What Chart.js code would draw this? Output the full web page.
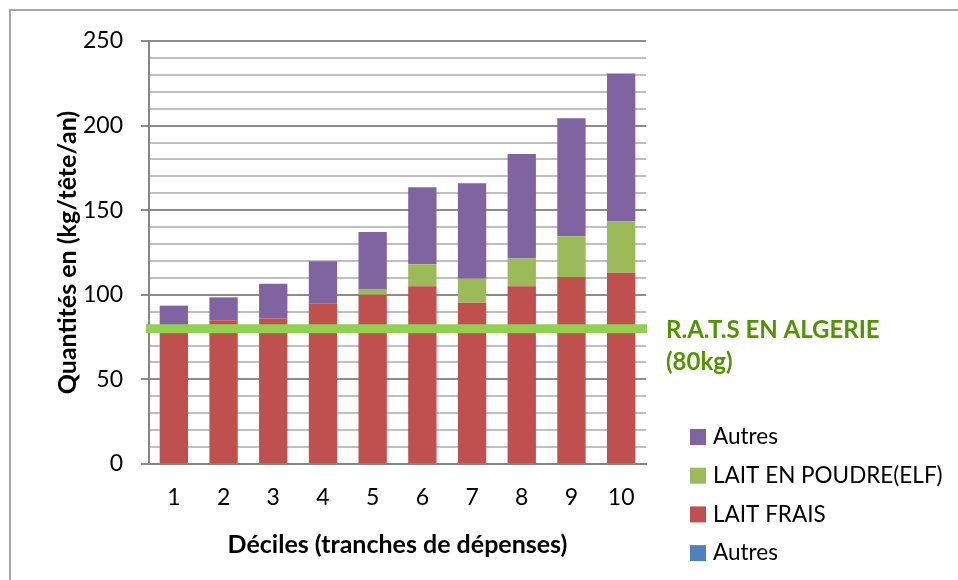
<!DOCTYPE html>
<html>
<head>
<meta charset="utf-8">
<script src="https://cdn.jsdelivr.net/npm/chart.js@4"></script>
<style>
  body { margin: 0; background: #fff; }
  canvas { display: block; }
</style>
</head>
<body>
<canvas id="chart" width="958" height="580"></canvas>
<script>
// Données
const deciles = ['1', '2', '3', '4', '5', '6', '7', '8', '9', '10'];
const laitFrais = [80, 85, 86, 95, 100, 105, 95.3, 105, 110.5, 113];
const laitPoudre = [0, 0, 0, 0, 3.5, 13, 14.2, 16.4, 24.1, 30.5];
const autres = [13.6, 13.5, 20.6, 24.8, 33.6, 45.5, 56.4, 61.8, 69.7, 87.3];
const autresBleu = [0, 0, 0, 0, 0, 0, 0, 0, 0, 0];
const yMax = 250;
const ratsValeur = 80;
const ratsTexte = ['R.A.T.S EN ALGERIE', '(80kg)'];

const FONT = 'Lato, "Open Sans", sans-serif';

const decor = {
    id: 'decor',
    beforeDraw(chart) {
        const ctx = chart.ctx;
        ctx.save();
        ctx.strokeStyle = '#a6a6a6';
        ctx.lineWidth = 2;
        ctx.beginPath();
        ctx.moveTo(10, 580);
        ctx.lineTo(10, 10);
        ctx.lineTo(958, 10);
        ctx.stroke();
        ctx.restore();
    },
    afterDatasetsDraw(chart) {
        // ligne R.A.T.S
        const ctx = chart.ctx;
        const y = chart.scales.y.getPixelForValue(ratsValeur);
        ctx.save();
        ctx.strokeStyle = '#92d050';
        ctx.lineWidth = 9;
        ctx.beginPath();
        ctx.moveTo(chart.chartArea.left - 3, y);
        ctx.lineTo(chart.chartArea.right + 1, y);
        ctx.stroke();
        ctx.fillStyle = '#4f9500';
        ctx.font = 'bold 24px ' + FONT;
        ctx.textBaseline = 'middle';
        ctx.fillText(ratsTexte[0], chart.chartArea.right + 20, y + 2);
        ctx.fillText(ratsTexte[1], chart.chartArea.right + 20, y + 34);
        ctx.restore();
    },
    afterDraw(chart) {
        // légende
        const ctx = chart.ctx;
        const sets = chart.data.datasets.slice().reverse();
        ctx.save();
        ctx.font = '22.5px ' + FONT;
        ctx.textBaseline = 'middle';
        sets.forEach((ds, i) => {
            const y = 437 + i * 38.7;
            ctx.fillStyle = ds.backgroundColor;
            ctx.fillRect(690, y - 8, 16, 16);
            ctx.fillStyle = '#000';
            ctx.fillText(ds.label, 713, y);
        });
        ctx.restore();
    }
};

new Chart(document.getElementById('chart').getContext('2d'), {
    type: 'bar',
    data: {
        labels: deciles,
        datasets: [
            { label: 'Autres', data: autresBleu, backgroundColor: '#4f81bd' },
            { label: 'LAIT FRAIS', data: laitFrais, backgroundColor: '#c0504d' },
            { label: 'LAIT EN POUDRE(ELF)', data: laitPoudre, backgroundColor: '#9bbb59' },
            { label: 'Autres', data: autres, backgroundColor: '#8064a2' }
        ]
    },
    options: {
        responsive: false,
        animation: false,
        layout: { padding: { left: 0, right: 312, top: 41, bottom: 0 } },
        datasets: { bar: { barPercentage: 0.57, categoryPercentage: 1 } },
        plugins: { legend: { display: false }, tooltip: { enabled: false } },
        scales: {
            x: {
                stacked: true,
                afterFit: s => { s.height = 116; },
                grid: { display: true, drawOnChartArea: false, drawTicks: false },
                border: { color: '#868686', width: 2 },
                ticks: { color: '#000', font: { family: FONT, size: 23 }, padding: 20 },
                title: {
                    display: true,
                    text: 'Déciles (tranches de dépenses)',
                    color: '#000',
                    font: { family: FONT, size: 25, weight: 'bold' },
                    padding: { bottom: 20 }
                }
            },
            y: {
                stacked: true,
                min: 0,
                max: yMax,
                afterFit: s => { s.width = 149; },
                border: { color: '#868686', width: 2 },
                grid: {
                    color: c => (c.tick && c.tick.value % 50 === 0) ? '#8c8c8c' : '#bfbfbf',
                    tickColor: c => (c.tick && c.tick.value % 50 === 0) ? '#8c8c8c' : 'rgba(0,0,0,0)',
                    lineWidth: 2,
                    tickLength: 8
                },
                ticks: {
                    stepSize: 10,
                    autoSkip: false,
                    color: '#000',
                    padding: 18,
                    font: { family: FONT, size: 23 },
                    callback: v => (v % 50 === 0 ? v : '')
                },
                title: {
                    display: true,
                    text: 'Quantités en (kg/tête/an)',
                    color: '#000',
                    font: { family: FONT, size: 25, weight: 'bold' },
                    padding: { top: 53 }
                }
            }
        }
    },
    plugins: [decor]
});
</script>
</body>
</html>
